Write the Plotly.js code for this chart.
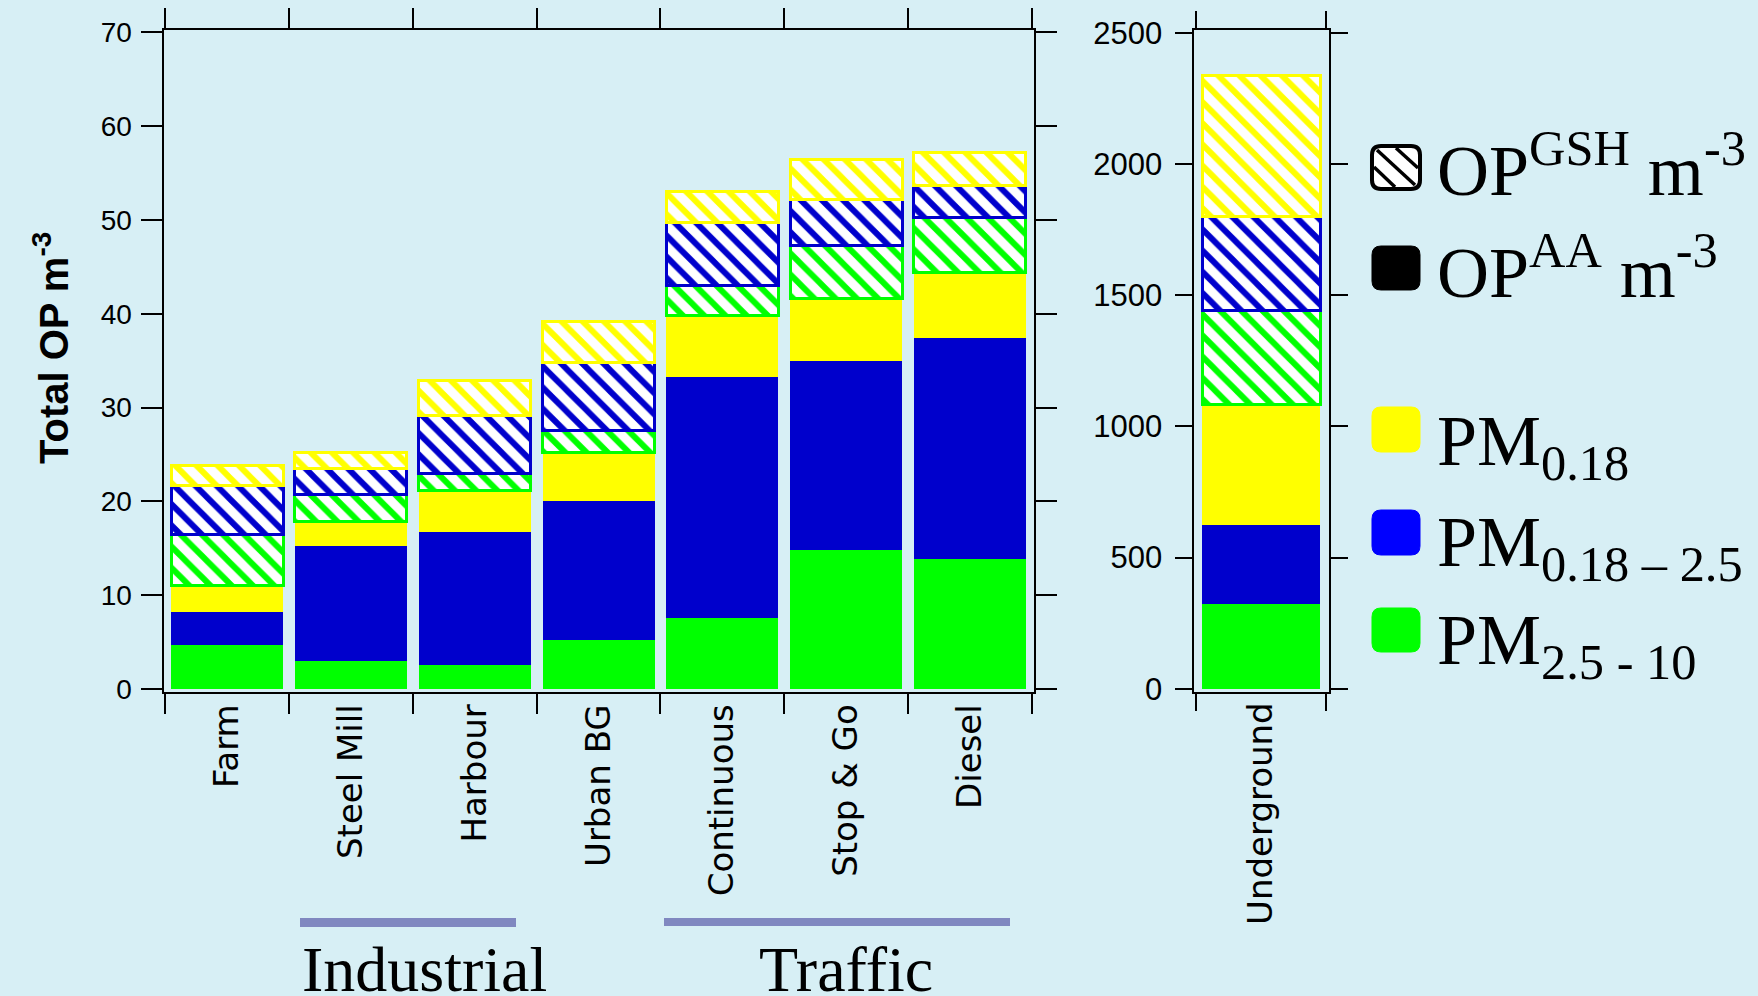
<!DOCTYPE html>
<html>
<head>
<meta charset="utf-8">
<script src="https://cdn.plot.ly/plotly-3.0.1.min.js"></script>
<style>
  html, body { margin: 0; padding: 0; background: #d7eff5; }
  #chart { width: 1758px; height: 996px; }
</style>
</head>
<body>
<div id="chart"></div>
<script>
// Sampling sites (left panel) and the underground site (right panel, own scale)
const sites = ['Farm', 'Steel Mill', 'Harbour', 'Urban BG', 'Continuous', 'Stop & Go', 'Diesel'];
const undergroundSite = ['Underground'];

// OP(AA) per m3 by size fraction
const aaCoarse = [4.7, 3.0, 2.6, 5.2, 7.6, 14.8, 13.8];        // PM2.5-10
const aaAccum = [3.45, 12.2, 14.15, 14.85, 25.7, 20.2, 23.65];  // PM0.18-2.5
const aaUltra = [2.85, 2.65, 4.4, 5.2, 6.5, 6.65, 6.95];        // PM0.18

// OP(GSH) per m3 by size fraction
const gshCoarse = [5.5, 2.85, 1.85, 2.3, 3.2, 5.6, 5.85];
const gshAccum = [5.2, 2.75, 6.1, 7.2, 6.75, 4.95, 3.45];
const gshUltra = [2.1, 1.75, 3.75, 4.45, 3.3, 4.2, 3.45];

// Underground: [PM2.5-10, PM0.18-2.5, PM0.18]
const undergroundAA = [322, 301, 461];
const undergroundGSH = [359, 358, 537];

const W = 1758, H = 996;
const px = v => v / W;
const py = v => 1 - v / H;

const GREEN = '#00ff00', BLUE = '#0000cc', YELLOW = '#ffff00';

function solid(x, y, color, xa, ya) {
  return { type: 'bar', x: x, y: y, xaxis: xa, yaxis: ya,
    marker: { color: color, line: { width: 0 } }, hoverinfo: 'x+y' };
}
function hatched(x, y, color, xa, ya) {
  return { type: 'bar', x: x, y: y, xaxis: xa, yaxis: ya,
    marker: { color: '#ffffff',
      pattern: { shape: '\\', fgcolor: color, bgcolor: '#ffffff', fgopacity: 1,
                 size: 15, solidity: 0.4, fillmode: 'overlay' },
      line: { color: color, width: 3 } }, hoverinfo: 'x+y' };
}

const traces = [
  solid(sites, aaCoarse, GREEN, 'x', 'y'),
  solid(sites, aaAccum, BLUE, 'x', 'y'),
  solid(sites, aaUltra, YELLOW, 'x', 'y'),
  hatched(sites, gshCoarse, GREEN, 'x', 'y'),
  hatched(sites, gshAccum, BLUE, 'x', 'y'),
  hatched(sites, gshUltra, YELLOW, 'x', 'y'),
  solid(undergroundSite, [undergroundAA[0]], GREEN, 'x2', 'y2'),
  solid(undergroundSite, [undergroundAA[1]], BLUE, 'x2', 'y2'),
  solid(undergroundSite, [undergroundAA[2]], YELLOW, 'x2', 'y2'),
  hatched(undergroundSite, [undergroundGSH[0]], GREEN, 'x2', 'y2'),
  hatched(undergroundSite, [undergroundGSH[1]], BLUE, 'x2', 'y2'),
  hatched(undergroundSite, [undergroundGSH[2]], YELLOW, 'x2', 'y2')
];

const catFont = { family: 'DejaVu Sans, Verdana, sans-serif', size: 34, color: '#000' };
const numFont = { family: 'Liberation Sans, Arial, sans-serif', size: 28, color: '#000' };
const serif = 'Liberation Serif, Times New Roman, serif';

const yDomain = [py(691.7), py(29.5)];

// rounded square legend key, path in paper units
function roundRect(x0, y0, x1, y1, r) {
  const X = v => px(v).toFixed(5), Y = v => py(v).toFixed(5);
  return 'M' + X(x0 + r) + ',' + Y(y0) + ' L' + X(x1 - r) + ',' + Y(y0) +
    ' Q' + X(x1) + ',' + Y(y0) + ' ' + X(x1) + ',' + Y(y0 + r) +
    ' L' + X(x1) + ',' + Y(y1 - r) +
    ' Q' + X(x1) + ',' + Y(y1) + ' ' + X(x1 - r) + ',' + Y(y1) +
    ' L' + X(x0 + r) + ',' + Y(y1) +
    ' Q' + X(x0) + ',' + Y(y1) + ' ' + X(x0) + ',' + Y(y1 - r) +
    ' L' + X(x0) + ',' + Y(y0 + r) +
    ' Q' + X(x0) + ',' + Y(y0) + ' ' + X(x0 + r) + ',' + Y(y0) + ' Z';
}
function key(y0, y1, fill, line, lw) {
  return { type: 'path', xref: 'paper', yref: 'paper', path: roundRect(1372, y0, 1420, y1, 9),
    fillcolor: fill, line: { color: line, width: lw }, layer: 'above' };
}
function seg(x0, y0, x1, y1, color, w) {
  return { type: 'line', xref: 'paper', yref: 'paper', x0: px(x0), y0: py(y0), x1: px(x1), y1: py(y1),
    line: { color: color, width: w }, layer: 'above' };
}
function bar(x0, x1, y0, y1) {
  return { type: 'rect', xref: 'paper', yref: 'paper', x0: px(x0), x1: px(x1), y0: py(y1), y1: py(y0),
    fillcolor: '#8088c0', line: { width: 0 } };
}

const shapes = [
  key(146, 189, '#ffffff', '#000000', 4),
  seg(1377, 150, 1415, 185, '#000', 3.5),
  seg(1396, 148, 1418, 168, '#000', 3.5),
  seg(1374, 167, 1395, 187, '#000', 3.5),
  key(246, 290, '#000000', '#000000', 1),
  key(407, 452, '#ffff00', '#ffff00', 1),
  key(510, 555, '#0000ff', '#0000ff', 1),
  key(608, 652, '#00ff00', '#00ff00', 1),
  bar(300, 516, 918, 927),
  bar(664, 1010, 918, 926)
];

function legendText(text, center) {
  return { xref: 'paper', yref: 'paper', x: px(1435), y: py(center), xanchor: 'left', yanchor: 'middle',
    text: text, showarrow: false, font: { family: serif, size: 72, color: '#000' } };
}

const annotations = [
  { xref: 'paper', yref: 'paper', x: px(51), y: py(348), xanchor: 'center', yanchor: 'middle',
    textangle: -90, showarrow: false, text: '<b>Total OP m<sup>-3</sup></b>',
    font: { family: 'Liberation Sans, Arial, sans-serif', size: 40, color: '#000' } },
  legendText('OP<sup>GSH</sup> m<sup>-3</sup>', 166),
  legendText('OP<sup>AA</sup> m<sup>-3</sup>', 267),
  legendText('PM<sub>0.18</sub>', 446),
  legendText('PM<sub>0.18 – 2.5</sub>', 547),
  legendText('PM<sub>2.5 - 10</sub>', 645),
  { xref: 'paper', yref: 'paper', x: px(424), y: py(969), xanchor: 'center', yanchor: 'middle',
    showarrow: false, text: 'Industrial', font: { family: serif, size: 64, color: '#000' } },
  { xref: 'paper', yref: 'paper', x: px(846), y: py(969), xanchor: 'center', yanchor: 'middle',
    showarrow: false, text: 'Traffic', font: { family: serif, size: 64, color: '#000' } }
];

const axisCommon = { showline: true, linecolor: '#000', linewidth: 2, mirror: 'ticks',
  ticks: 'outside', tickcolor: '#000', tickwidth: 2, showgrid: false, zeroline: false, fixedrange: true };

const layout = {
  width: W, height: H,
  paper_bgcolor: '#d7eff5', plot_bgcolor: '#d7eff5',
  margin: { l: 0, r: 0, t: 0, b: 0 },
  barmode: 'stack', bargap: 0.095,
  showlegend: false,
  xaxis: Object.assign({}, axisCommon, {
    domain: [px(163.5), px(1033.5)], anchor: 'y', type: 'category',
    range: [-0.515, 6.515], tickson: 'boundaries', ticklen: 20,
    tickangle: -90, tickfont: catFont, ticklabelstandoff: -3
  }),
  yaxis: Object.assign({}, axisCommon, {
    domain: yDomain, anchor: 'x', range: [-0.3, 70.3], dtick: 10, tick0: 0,
    ticklen: 21, tickfont: numFont, ticklabelstandoff: 3
  }),
  xaxis2: Object.assign({}, axisCommon, {
    domain: [px(1193.5), px(1329)], anchor: 'y2', type: 'category',
    range: [-0.52, 0.52], tickson: 'boundaries', ticklen: 17,
    tickangle: -90, tickfont: catFont, ticklabelstandoff: -5
  }),
  yaxis2: Object.assign({}, axisCommon, {
    domain: yDomain, anchor: 'x2', range: [-11, 2512], dtick: 500, tick0: 0,
    ticklen: 17, tickfont: Object.assign({}, numFont, { size: 31 }), ticklabelstandoff: 6
  }),
  shapes: shapes,
  annotations: annotations
};

Plotly.newPlot('chart', traces, layout, { displayModeBar: false, responsive: false });
</script>
</body>
</html>
